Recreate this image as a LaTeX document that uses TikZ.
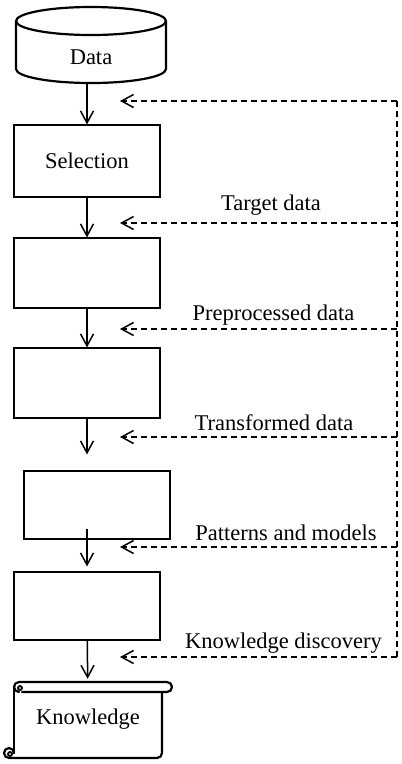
\documentclass[tikz,border=0pt]{standalone}
\usepackage{fontspec}
\setmainfont{Liberation Serif}
\usetikzlibrary{arrows.meta}
\begin{document}
\begin{tikzpicture}[x=1pt,y=-1pt,
  every node/.style={font=\fontsize{22.5pt}{27pt}\selectfont, inner sep=0pt},
  stepbox/.style={draw, line width=1.1pt, minimum width=146pt, minimum height=70pt},
  flow/.style={line width=1.5pt, -{Straight Barb[length=12pt,width=13pt,line width=1.5pt]}},
  back/.style={line width=1.5pt, dash pattern=on 6pt off 4pt, -{Straight Barb[length=12pt,width=13pt,line width=1.5pt]}},
  backline/.style={line width=1.5pt, dash pattern=on 6pt off 4pt},
  shapeline/.style={line width=2.2pt, line join=round, line cap=round},
  lab/.style={anchor=base}
]
\useasboundingbox (0,0) rectangle (402,764);

% Data cylinder
\draw[shapeline] (16,21) -- (16,69) arc[start angle=180,end angle=0,x radius=75,y radius=14] -- (166,21);
\draw[shapeline] (91,21) ellipse [x radius=75, y radius=14];
\node[minimum width=150pt, minimum height=51pt] (data) at (91,57.5) {Data};

% boxes
\node[stepbox, minimum height=72pt] (sel) at (87,161) {Selection};
\node[stepbox] (b2) at (87,273) {};
\node[stepbox] (b3) at (87,383) {};
\node[stepbox, minimum height=68pt] (b4) at (97,505) {};
\node[stepbox, minimum height=68pt] (b5) at (87,606) {};

% Knowledge scroll
\draw[shapeline] (19,682) -- (167,682) arc[start angle=-90,end angle=90,radius=5] -- (22,692);
\draw[shapeline] (19,682) arc[start angle=270,end angle=90,radius=5];
\draw[line width=1.8pt] (20,688) circle[radius=2];
\draw[shapeline] (14,687) -- (14,753);
\draw[shapeline] (162,692) -- (162,753) arc[start angle=0,end angle=90,radius=5] -- (9,758)
  arc[start angle=90,end angle=270,radius=5] arc[start angle=270,end angle=360,radius=5];
\draw[line width=1.8pt] (10,754) circle[radius=2];
\node[minimum width=148pt, minimum height=78pt] (know) at (88,719) {Knowledge};

% main flow
\draw[flow] (sel.north |- data.south) -- (sel.north);
\draw[flow] (sel) -- (b2);
\draw[flow] (b2) -- (b3);
\draw[flow, shorten >=16pt] (b3.south) -- (b3.south |- b4.north);
\draw[flow, shorten <=-11pt, shorten >=5pt] (b5.north |- b4.south) -- (b5.north);
\draw[flow, shorten >=1pt] (b5) -- (know);

% feedback coordinates
\coordinate (r0) at (397,101);
\coordinate (r1) at (397,223);
\coordinate (r2) at (397,329);
\coordinate (r3) at (397,437);
\coordinate (r4) at (397,547);
\coordinate (r5) at (397,657);
\coordinate (l0) at (120,101);
\coordinate (l1) at (120,223);
\coordinate (l2) at (120,329);
\coordinate (l3) at (120,437);
\coordinate (l4) at (120,547);
\coordinate (l5) at (120,657);

\draw[backline] (r0) -- (r5);
\foreach \i in {0,...,5} { \draw[back] (r\i) -- (l\i); }

% labels
\node[lab] (t1) at (271,210) {Target data};
\node[lab] (t2) at (273.5,320) {Preprocessed data};
\node[lab] (t3) at (274,430) {Transformed data};
\node[lab] (t4) at (286,540) {Patterns and models};
\node[lab] (t5) at (283.5,648) {Knowledge discovery};
\end{tikzpicture}
\end{document}
